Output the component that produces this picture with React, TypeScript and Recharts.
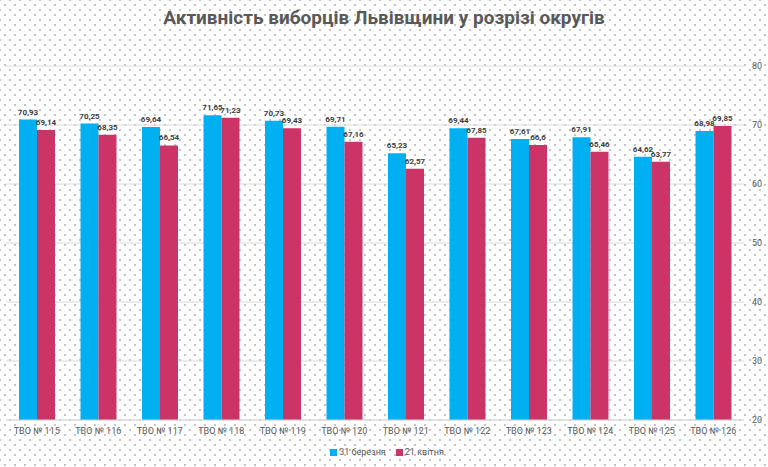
import { BarChart, Bar, XAxis, YAxis, CartesianGrid, Legend, LabelList } from "recharts";

const districts = [
  "ТВО № 115", "ТВО № 116", "ТВО № 117", "ТВО № 118", "ТВО № 119", "ТВО № 120",
  "ТВО № 121", "ТВО № 122", "ТВО № 123", "ТВО № 124", "ТВО № 125", "ТВО № 126",
];
const march31 = [70.93, 70.25, 69.64, 71.65, 70.73, 69.71, 65.23, 69.44, 67.61, 67.91, 64.62, 68.98];
const april21 = [69.14, 68.35, 66.54, 71.23, 69.43, 67.16, 62.57, 67.85, 66.6, 65.46, 63.77, 69.85];
const yTicks = [20, 30, 40, 50, 60, 70, 80];
const seriesNames = ["31 березня", "21 квітня"];
const seriesColors = ["#00B0F0", "#CC3366"];

const data = districts.map((name, i) => ({ name, march: march31[i], april: april21[i] }));

const comma = (v: any) => String(v).replace(".", ",");

const LegendBox = () => (
  <div style={{ display: "flex", justifyContent: "center", gap: 10, fontSize: 9, color: "#595959", paddingTop: 5 }}>
    {seriesNames.map((n, i) => (
      <span key={n} style={{ display: "flex", alignItems: "center" }}>
        <span style={{ width: 7, height: 7, background: seriesColors[i], marginRight: 2 }} />
        {n}
      </span>
    ))}
  </div>
);

export default function App() {
  return (
    <div
      style={{
        position: "fixed",
        left: 0,
        top: 0,
        width: 768,
        height: 467,
        backgroundColor: "#fff",
        backgroundImage:
          "radial-gradient(#999 0.6px, transparent 0.85px), radial-gradient(#999 0.6px, transparent 0.85px)",
        backgroundSize: "10px 10px",
        backgroundPosition: "0 0, 5px 5px",
        fontFamily: "Roboto, sans-serif",
      }}
    >
      <div
        style={{
          position: "absolute",
          top: 6,
          left: 0,
          width: 768,
          textAlign: "center",
          fontSize: 19,
          fontWeight: 700,
          color: "#595959",
        }}
      >
        Активність виборців Львівщини у розрізі округів
      </div>
      <BarChart
        width={768}
        height={467}
        data={data}
        margin={{ top: 66, right: 0, left: 6, bottom: 0 }}
        barSize={18}
        barGap={0}
      >
        <CartesianGrid vertical={false} stroke="#d9d9d9" />
        <XAxis
          dataKey="name"
          axisLine={{ stroke: "#d9d9d9" }}
          tickLine={false}
          height={22}
          tick={{ fill: "#595959", fontSize: 9 }}
          interval={0}
        />
        <YAxis
          orientation="right"
          domain={[20, 80]}
          ticks={yTicks}
          axisLine={false}
          tickLine={false}
          width={24}
          tick={{ fill: "#595959", fontSize: 9 }}
        />
        <Legend height={25} content={<LegendBox />} />
        <Bar dataKey="march" name={seriesNames[0]} fill={seriesColors[0]} isAnimationActive={false}>
          <LabelList dataKey="march" position="top" formatter={comma} fontSize={8} fontWeight={700} fill="#404040" />
        </Bar>
        <Bar dataKey="april" name={seriesNames[1]} fill={seriesColors[1]} isAnimationActive={false}>
          <LabelList dataKey="april" position="top" formatter={comma} fontSize={8} fontWeight={700} fill="#404040" />
        </Bar>
      </BarChart>
    </div>
  );
}
